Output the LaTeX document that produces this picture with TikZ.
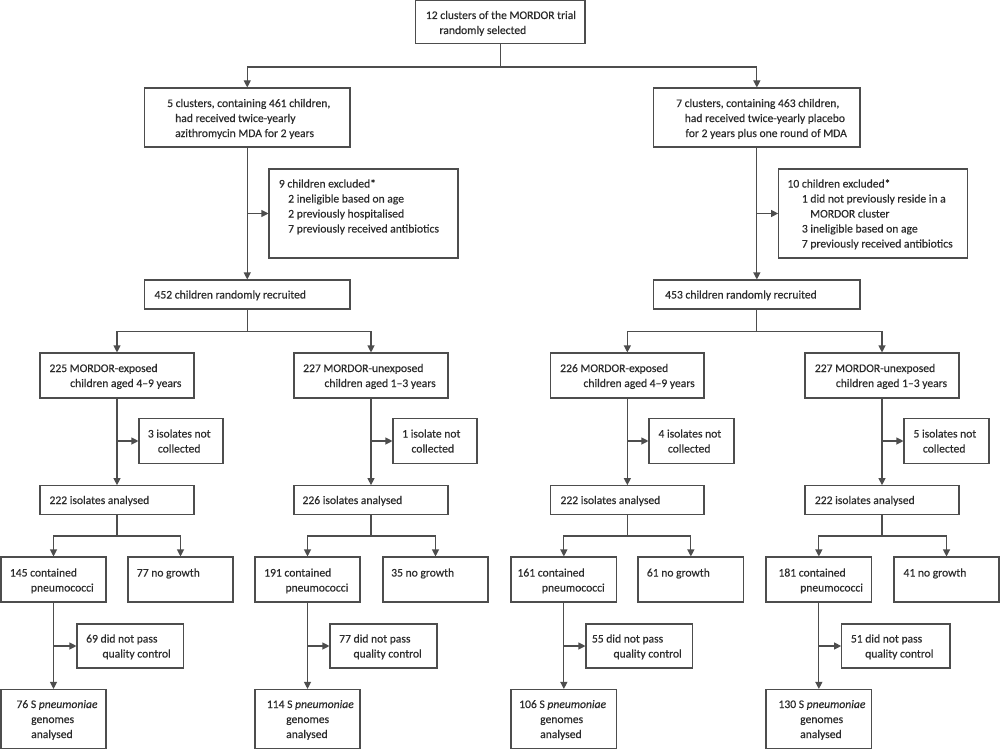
\documentclass[tikz,border=0pt]{standalone}
\usepackage{fontspec}
\setmainfont{Carlito}[FakeBold=0.35]
\usetikzlibrary{arrows.meta}
\definecolor{ink}{HTML}{2B2B2B}
\definecolor{edge}{HTML}{4D4D4D}
\newcommand\tlines[1]{\vtop{\baselineskip=15pt\lineskiplimit=0pt\lineskip=0pt #1}}
\newcommand\tline[2][0]{\hbox{\kern#1pt #2}}
\newcommand\bx[5]{\node[box, minimum width={#4pt-#2pt}, minimum height={#5pt-#3pt}] (#1) at ({(#2+#4)/2},{(#3+#5)/2}) {};}
\newcommand\tx[4]{\node[txt] (#1) at (#2,#3) {\tlines{#4}};}
\tikzset{
  box/.style={draw=edge, line width=1.1pt, rectangle, inner sep=0pt},
  txt/.style={anchor=base west, inner sep=0pt, text=ink, font=\fontsize{11.6}{15}\selectfont},
  ln/.style={draw=edge, line width=1.1pt},
  arr/.style={ln, -{Triangle[length=7pt,width=7pt]}}
}
\begin{document}
\begin{tikzpicture}[x=1pt,y=-1pt]
\useasboundingbox (0,0) rectangle (1000,749);
% top
\bx{top}{415.7}{0.6}{585}{43.7}
\tx{ttop}{425.7}{19}{\tline{12 clusters of the MORDOR trial}\tline[13.6]{randomly selected}}
% arms
\bx{c5}{144.5}{88}{350}{147}
\tx{tc5}{167}{107}{\tline{5 clusters, containing 461 children,}\tline[8]{had received twice-yearly}\tline[8]{azithromycin MDA for 2 years}}
\bx{c7}{653.7}{88}{860}{147}
\tx{tc7}{676}{107}{\tline{7 clusters, containing 463 children,}\tline[8.6]{had received twice-yearly placebo}\tline[9.3]{for 2 years plus one round of MDA}}
% exclusions
\bx{ex9}{269}{169}{458}{258}
\tx{tex9}{278.7}{187.5}{\tline{9 children excluded*}\tline[9.3]{2 ineligible based on age}\tline[9.3]{2 previously hospitalised}\tline[9.3]{7 previously received antibiotics}}
\bx{ex10}{778.7}{169}{967.3}{258}
\tx{tex10}{787.3}{187.5}{\tline{10 children excluded*}\tline[14.4]{1 did not previously reside in a}\tline[22.7]{MORDOR cluster}\tline[14.4]{3 ineligible based on age}\tline[14.4]{7 previously received antibiotics}}
% recruited
\bx{n452}{144.5}{280}{350}{309}
\tx{tn452}{154.3}{298.5}{\tline{452 children randomly recruited}}
\bx{n453}{653.7}{280}{860}{309}
\tx{tn453}{665}{298.5}{\tline{453 children randomly recruited}}
% level 3
\bx{eA1}{40}{353}{194}{398}
\tx{teA1}{49.3}{372}{\tline{225 MORDOR-exposed}\tline[20.7]{children aged 4–9 years}}
\bx{eA2}{294}{353}{448}{398}
\tx{teA2}{303}{372}{\tline{227 MORDOR-unexposed}\tline[21.3]{children aged 1–3 years}}
\bx{eB1}{550.7}{353}{704}{398}
\tx{teB1}{560}{372}{\tline{226 MORDOR-exposed}\tline[23.3]{children aged 4–9 years}}
\bx{eB2}{805}{353}{959}{398}
\tx{teB2}{814.7}{372}{\tline{227 MORDOR-unexposed}\tline[21]{children aged 1–3 years}}
% isolates not collected
\bx{iA1}{139}{418.7}{223}{463.3}
\tx{tiA1}{147.7}{437.5}{\tline{3 isolates not}\tline[10]{collected}}
\bx{iA2}{393}{418.7}{477}{463.3}
\tx{tiA2}{402}{437.5}{\tline{1 isolate not}\tline[9.3]{collected}}
\bx{iB1}{649}{418.7}{734}{463.3}
\tx{tiB1}{658.3}{437.5}{\tline{4 isolates not}\tline[9.4]{collected}}
\bx{iB2}{904}{418.7}{989}{463.3}
\tx{tiB2}{913.3}{437.5}{\tline{5 isolates not}\tline[9.4]{collected}}
% analysed
\bx{aA1}{40}{485.7}{194}{514.3}
\tx{taA1}{49.3}{504}{\tline{222 isolates analysed}}
\bx{aA2}{294}{485.7}{448}{514.3}
\tx{taA2}{302.3}{504}{\tline{226 isolates analysed}}
\bx{aB1}{550.7}{485.7}{704}{514.3}
\tx{taB1}{560.3}{504}{\tline{222 isolates analysed}}
\bx{aB2}{805}{485.7}{959}{514.3}
\tx{taB2}{814.7}{504}{\tline{222 isolates analysed}}
% contained / no growth
\bx{cA1}{1}{557}{106}{602}
\tx{tcA1}{9.7}{576.5}{\tline{145 contained}\tline[21]{pneumococci}}
\bx{gA1}{128}{557}{233}{602}
\tx{tgA1}{136.7}{576.5}{\tline{77 no growth}}
\bx{cA2}{255}{557}{360}{602}
\tx{tcA2}{264}{576.5}{\tline{191 contained}\tline[21.3]{pneumococci}}
\bx{gA2}{383}{557}{488}{602}
\tx{tgA2}{391}{576.5}{\tline{35 no growth}}
\bx{cB1}{511}{557}{616.7}{602}
\tx{tcB1}{517.3}{576.5}{\tline{161 contained}\tline[24.4]{pneumococci}}
\bx{gB1}{638}{557}{743.7}{602}
\tx{tgB1}{646.7}{576.5}{\tline{61 no growth}}
\bx{cB2}{766}{557}{871.7}{602}
\tx{tcB2}{778.3}{576.5}{\tline{181 contained}\tline[21.7]{pneumococci}}
\bx{gB2}{894}{557}{999}{602}
\tx{tgB2}{903.3}{576.5}{\tline{41 no growth}}
% quality control
\bx{qA1}{77}{624}{183.7}{668}
\tx{tqA1}{86}{642.5}{\tline{69 did not pass}\tline[16.3]{quality control}}
\bx{qA2}{330}{624}{437}{668}
\tx{tqA2}{339}{642.5}{\tline{77 did not pass}\tline[14.3]{quality control}}
\bx{qB1}{586}{624}{692.7}{668}
\tx{tqB1}{591.7}{642.5}{\tline{55 did not pass}\tline[21.6]{quality control}}
\bx{qB2}{841.7}{624}{950}{668}
\tx{tqB2}{850.7}{642.5}{\tline{51 did not pass}\tline[14.3]{quality control}}
% genomes
\bx{sA1}{1}{689.5}{106}{748.3}
\tx{tsA1}{16.3}{708}{\tline{76 S \textit{pneumoniae}}\tline[14.7]{genomes}\tline[14.7]{analysed}}
\bx{sA2}{255}{689.5}{360}{748.3}
\tx{tsA2}{266.7}{708}{\tline{114 S \textit{pneumoniae}}\tline[19.3]{genomes}\tline[19.3]{analysed}}
\bx{sB1}{511}{689.5}{616.7}{748.3}
\tx{tsB1}{519}{708}{\tline{106 S \textit{pneumoniae}}\tline[21]{genomes}\tline[21]{analysed}}
\bx{sB2}{766}{689.5}{871.7}{748.3}
\tx{tsB2}{778.3}{708}{\tline{130 S \textit{pneumoniae}}\tline[21.7]{genomes}\tline[21.7]{analysed}}
% connectors
\coordinate (j0) at (top.south |- 0,67);
\draw[ln] (top.south) -- (j0);
\draw[arr] (j0) -| (c5.north);
\draw[arr] (j0) -| (c7.north);
\draw[arr] (c5.south) -- (n452.north);
\draw[arr] (c5.south |- ex9.west) -- (ex9.west);
\draw[arr] (c7.south) -- (n453.north);
\draw[arr] (c7.south |- ex10.west) -- (ex10.west);
\coordinate (jA) at (n452.south |- 0,331.7);
\draw[ln] (n452.south) -- (jA);
\draw[arr] (jA) -| (eA1.north);
\draw[arr] (jA) -| (eA2.north);
\coordinate (jB) at (n453.south |- 0,331.7);
\draw[ln] (n453.south) -- (jB);
\draw[arr] (jB) -| (eB1.north);
\draw[arr] (jB) -| (eB2.north);
\foreach \c in {A1,A2,B1,B2}{
  \draw[arr] (e\c.south) -- (a\c.north);
  \draw[arr] (e\c.south |- i\c.west) -- (i\c.west);
  \coordinate (k\c) at (a\c.south |- 0,536);
  \draw[ln] (a\c.south) -- (k\c);
  \draw[arr] (k\c) -| (c\c.north);
  \draw[arr] (k\c) -| (g\c.north);
  \draw[arr] (c\c.south) -- (s\c.north);
  \draw[arr] (c\c.south |- q\c.west) -- (q\c.west);
}
\end{tikzpicture}
\end{document}
